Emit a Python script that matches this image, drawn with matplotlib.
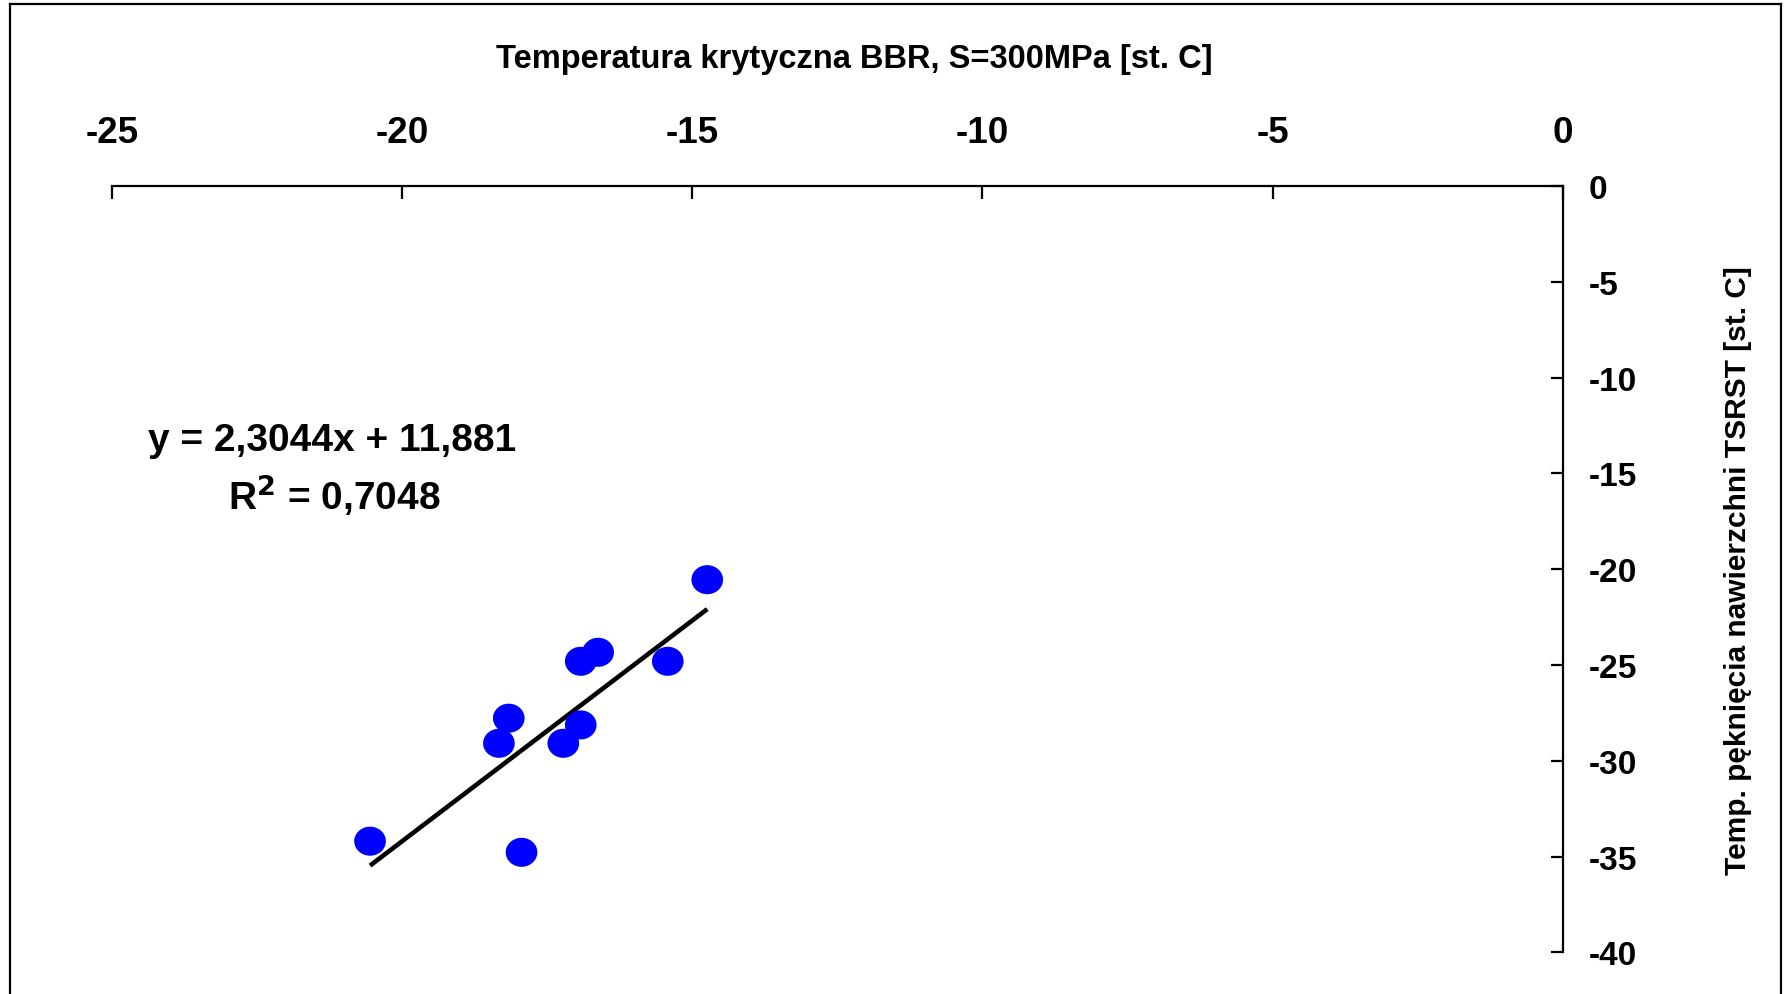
import matplotlib
matplotlib.use("Agg")
import matplotlib.pyplot as plt
from matplotlib.lines import Line2D
from matplotlib.path import Path
import numpy as np

plt.rcParams['font.family'] = ['Liberation Sans', 'DejaVu Sans']
plt.rcParams['font.weight'] = 'bold'

# Data (BBR critical temperature vs TSRST cracking temperature)
bbr_temp = [-14.74, -16.62, -16.92, -15.42, -18.16, -16.92, -18.33, -17.22, -20.55, -17.94]
tsrst_temp = [-20.55, -24.34, -24.81, -24.81, -27.78, -28.13, -29.09, -29.09, -34.20, -34.78]
slope = 2.3044
intercept = 11.881
r2 = 0.7048
x_ticks = [-25, -20, -15, -10, -5, 0]
y_ticks = [0, -5, -10, -15, -20, -25, -30, -35, -40]

W, H = 1790, 995
fig = plt.figure(figsize=(W / 100, H / 100), dpi=100)
fig.patch.set_facecolor('white')

ax_left, ax_right, ax_top, ax_bottom = 111.8, 1562.7, 187.0, 953.3
ax = fig.add_axes([ax_left / W, 1 - ax_bottom / H, (ax_right - ax_left) / W, (ax_bottom - ax_top) / H])
ax.set_xlim(-25, 0)
ax.set_ylim(-40, 0)

# Ellipse marker (slightly wider than tall)
t = np.linspace(0, 2 * np.pi, 64)
ell = Path(np.column_stack([1.09 * np.cos(t), np.sin(t)]), closed=True)
ax.scatter(bbr_temp, tsrst_temp, marker=ell, s=520, color='#0000FF', edgecolors='none', zorder=3)

xs = np.array([min(bbr_temp), max(bbr_temp)])
ax.plot(xs, slope * xs + intercept, color='black', lw=3.3, zorder=2, solid_capstyle='butt')

ax.spines['left'].set_visible(False)
ax.spines['bottom'].set_visible(False)
ax.spines['top'].set_linewidth(1.6)
ax.spines['right'].set_linewidth(1.6)

ax.xaxis.set_ticks_position('top')
ax.xaxis.set_label_position('top')
ax.yaxis.set_ticks_position('right')
ax.yaxis.set_label_position('right')
ax.set_xticks(x_ticks)
ax.set_yticks(y_ticks)
ax.set_xticklabels([str(v) for v in x_ticks])
ax.set_yticklabels([str(v) for v in y_ticks])
ax.tick_params(axis='x', direction='in', length=9, width=1.6, pad=26, labelsize=26.5)
ax.tick_params(axis='y', direction='in', length=9, width=1.6, pad=19, labelsize=24)
for lab in ax.get_xticklabels() + ax.get_yticklabels():
    lab.set_fontweight('bold')

ax.set_xlabel('Temperatura krytyczna BBR, S=300MPa [st. C]', fontsize=23.5, fontweight='bold')
ax.xaxis.label.set_verticalalignment('center')
ax.xaxis.set_label_coords((854 - ax_left) / (ax_right - ax_left),
                          1 + (ax_top - 59.5) / (ax_bottom - ax_top))
ax.set_ylabel('Temp. pęknięcia nawierzchni TSRST [st. C]', fontsize=21.5, fontweight='bold', labelpad=62)

eq = f"y = {slope:.4f}x + {intercept:.3f}".replace('.', ',')
r2txt = f"R$^{{2}}$ = {r2:.4f}".replace('.', ',')
fig.text(332 / W, 1 - 441 / H, eq, ha='center', va='center', fontsize=28, fontweight='bold')
fig.text(334 / W, 1 - 495 / H, r2txt, ha='center', va='center', fontsize=28, fontweight='bold')

# Outer frame (left, top, right)
fx0, fx1, fy = 10.5 / W, 1781.5 / W, 1 - 5 / H
for xd, yd in [([fx0, fx0], [0, fy]), ([fx0, fx1], [fy, fy]), ([fx1, fx1], [fy, 0])]:
    fig.add_artist(Line2D(xd, yd, transform=fig.transFigure, color='black', lw=1.6))

fig.savefig('out.png', dpi=100, facecolor='white')
